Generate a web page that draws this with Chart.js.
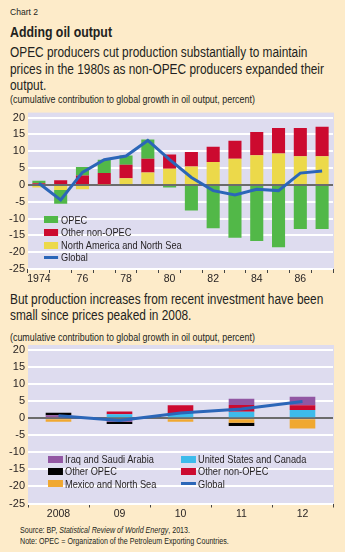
<!DOCTYPE html>
<html>
<head>
<meta charset="utf-8">
<script src="https://cdn.jsdelivr.net/npm/chart.js@4/dist/chart.umd.min.js"></script>
<style>
  html, body { margin: 0; padding: 0; }
  body { width: 345px; height: 552px; background: #fdebc9; position: relative; overflow: hidden;
         font-family: "Liberation Sans", Arial, sans-serif; color: #231f20; }
  .t { position: absolute; left: 10px; white-space: nowrap; transform-origin: left top; }
  .cv { position: absolute; left: 0; width: 345px; height: 180px; }
  .lg { position: absolute; font-size: 10.5px; white-space: nowrap; transform: scaleX(0.88); transform-origin: left top; }
  .lg div { height: 12.6px; line-height: 12.6px; }
  .lg .sw { display: inline-block; width: 16px; height: 7px; vertical-align: middle; margin-right: 3.4px; position: relative; top: -1px; }
  .lg .ln { display: inline-block; width: 16px; height: 3px; vertical-align: middle; margin-right: 3.4px; background: #2b66b8; position: relative; top: -1px; }
</style>
</head>
<body>
<div class="t" style="top:6px;font-size:9.5px;transform:scaleX(0.9);">Chart 2</div>
<div class="t" style="top:24px;font-size:14.5px;font-weight:bold;transform:scaleX(0.85);">Adding oil output</div>
<div class="t" style="top:45px;font-size:13.8px;line-height:16.7px;transform:scaleX(0.86);">OPEC producers cut production substantially to maintain<br>prices in the 1980s as non-OPEC producers expanded their<br>output.</div>
<div class="t" style="top:94px;font-size:10px;transform:scaleX(0.89);">(cumulative contribution to global growth in oil output, percent)</div>

<div class="t" style="top:292px;font-size:13.8px;line-height:16.3px;transform:scaleX(0.86);">But production increases from recent investment have been<br>small since prices peaked in 2008.</div>
<div class="t" style="top:332px;font-size:10px;transform:scaleX(0.89);">(cumulative contribution to global growth in oil output, percent)</div>

<div class="t" style="left:20px;top:525px;font-size:8.3px;line-height:11px;transform:scaleX(0.86);">Source: BP, <i>Statistical Review of World Energy</i>, 2013.<br>Note: OPEC = Organization of the Petroleum Exporting Countries.</div>

<canvas id="c1" class="cv" style="top:108px;"></canvas>
<canvas id="c2" class="cv" style="top:340px;"></canvas>

<div class="lg" style="left:44px;top:213.7px;">
  <div><span class="sw" style="background:#52b848"></span>OPEC</div>
  <div><span class="sw" style="background:#cc0a2f"></span>Other non-OPEC</div>
  <div><span class="sw" style="background:#ecd94a"></span>North America and North Sea</div>
  <div><span class="ln"></span>Global</div>
</div>

<div class="lg" style="left:48px;top:453px;">
  <div style="height:12.35px;line-height:12.35px"><span class="sw" style="background:#9257a3;width:17px;margin-right:2.3px"></span>Iraq and Saudi Arabia</div>
  <div style="height:12.35px;line-height:12.35px"><span class="sw" style="background:#000;width:17px;margin-right:2.3px"></span>Other OPEC</div>
  <div style="height:12.35px;line-height:12.35px"><span class="sw" style="background:#f0a830;width:17px;margin-right:2.3px"></span>Mexico and North Sea</div>
</div>
<div class="lg" style="left:181px;top:453px;">
  <div style="height:12.35px;line-height:12.35px"><span class="sw" style="background:#3dbbeb;width:17px;margin-right:2.3px"></span>United States and Canada</div>
  <div style="height:12.35px;line-height:12.35px"><span class="sw" style="background:#cc0a2f;width:17px;margin-right:2.3px"></span>Other non-OPEC</div>
  <div style="height:12.35px;line-height:12.35px"><span class="ln" style="width:17px;margin-right:2.3px"></span>Global</div>
</div>

<script>
// ---- Chart 1 data (1974-1987) ----
const years1 = ["1974","1975","1976","1977","1978","1979","1980","1981","1982","1983","1984","1985","1986","1987"];
const xTickLabels1 = ["1974","","76","","78","","80","","82","","84","","86",""];
const naNorthSea = [-0.8, -1.5, -1.3, 0.2, 2.0, 3.7, 4.8, 5.5, 6.8, 7.8, 8.8, 9.3, 8.5, 8.5];
const otherNonOpec1 = [0.5, 1.4, 2.8, 3.3, 4.0, 4.1, 4.2, 4.3, 4.5, 5.3, 6.9, 7.6, 8.4, 8.8];
const opec1 = [0.7, -4.1, 2.5, 4.0, 2.7, 5.7, -0.8, -7.6, -12.9, -15.7, -16.7, -18.5, -13.1, -13.1];
const global1 = [0.5, -4.5, 3.7, 7.5, 8.6, 13.2, 7.5, 2.2, -1.7, -3.0, -1.3, -1.7, 3.5, 4.1];

// ---- Chart 2 data (2008-2012) ----
const years2 = ["2008","2009","2010","2011","2012"];
const xTickLabels2 = ["2008","09","10","11","12"];
const usCanada = [-0.3, 1.2, 1.5, 1.9, 2.4];
const mexicoNorthSea = [-0.7, -0.5, -1.0, -1.3, -3.0];
const otherNonOpec2 = [0.3, 0.8, 2.3, 2.0, 1.4];
const iraqSaudi = [0.6, -0.5, 0.0, 1.8, 2.5];
const otherOpec = [0.7, -0.7, 0.0, -1.0, 0.0];
const global2 = [0.7, -0.7, 1.5, 2.7, 4.9];

const yTicks = [20, 15, 10, 5, 0, -5, -10, -15, -20, -25];

const FONT = '"Liberation Sans", Arial, sans-serif';
const C = { green:'#52b848', red:'#cc0a2f', yellow:'#ecd94a', blue:'#2b66b8', purple:'#9257a3', lblue:'#3dbbeb', orange:'#f0a830', black:'#000000' };

const bgPlugin = {
  id: 'plotBg',
  beforeDraw(chart) {
    const a = chart.chartArea, ctx = chart.ctx;
    ctx.save();
    ctx.fillStyle = '#dedcef';
    ctx.fillRect(a.left, a.top - 5, a.right - a.left + 1, a.bottom - a.top + 5);
    ctx.restore();
  }
};

function makeOptions(tickLabels, padTop, xHeight) {
  return {
    responsive: false,
    animation: false,
    devicePixelRatio: 1,
    layout: { padding: { left: 0, right: 12, top: padTop, bottom: 0 } },
    plugins: { legend: { display: false }, tooltip: { enabled: false } },
    scales: {
      x: {
        stacked: true,
        grid: { offset: true, drawOnChartArea: false, drawTicks: true, tickLength: 4, color: '#444', lineWidth: 1 },
        border: { display: false },
        ticks: { autoSkip: false, maxRotation: 0, padding: 0, color: '#231f20',
                 font: { family: FONT, size: 10.5 },
                 callback: (v, i) => tickLabels[i] },
        afterFit: s => { s.height = xHeight; }
      },
      y: {
        stacked: true,
        min: -25, max: 20,
        afterBuildTicks: s => { s.ticks = yTicks.map(v => ({ value: v })); },
        grid: { drawTicks: false, lineWidth: 2,
                color: ctx => ctx.tick && ctx.tick.value === 0 ? '#6b6b6b' : '#ffffff' },
        border: { display: false },
        ticks: { padding: 3, color: '#231f20', font: { family: FONT, size: 11 } },
        afterFit: s => { s.width = 28; }
      }
    }
  };
}

function bar(label, data, color, pct) {
  return { type: 'bar', label, data, backgroundColor: color, borderWidth: 0,
           barPercentage: pct, categoryPercentage: 1.0, order: 1, stack: 'bars' };
}
function line(label, data) {
  return { type: 'line', label, data, borderColor: C.blue, borderWidth: 3, pointRadius: 0,
           tension: 0, fill: false, order: 0, stack: 'line' };
}

const c1 = document.getElementById('c1');
c1.width = 345; c1.height = 180;
new Chart(c1, {
  type: 'bar',
  data: {
    labels: years1,
    datasets: [
      bar('North America and North Sea', naNorthSea, C.yellow, 0.6),
      bar('Other non-OPEC', otherNonOpec1, C.red, 0.6),
      bar('OPEC', opec1, C.green, 0.6),
      line('Global', global1)
    ]
  },
  options: makeOptions(xTickLabels1, 9, 19),
  plugins: [bgPlugin]
});

const c2 = document.getElementById('c2');
c2.width = 345; c2.height = 180;
new Chart(c2, {
  type: 'bar',
  data: {
    labels: years2,
    datasets: [
      bar('United States and Canada', usCanada, C.lblue, 0.42),
      bar('Mexico and North Sea', mexicoNorthSea, C.orange, 0.42),
      bar('Other non-OPEC', otherNonOpec2, C.red, 0.42),
      bar('Iraq and Saudi Arabia', iraqSaudi, C.purple, 0.42),
      bar('Other OPEC', otherOpec, C.black, 0.42),
      line('Global', global2)
    ]
  },
  options: makeOptions(xTickLabels2, 10, 16.5),
  plugins: [bgPlugin]
});
</script>
</body>
</html>
